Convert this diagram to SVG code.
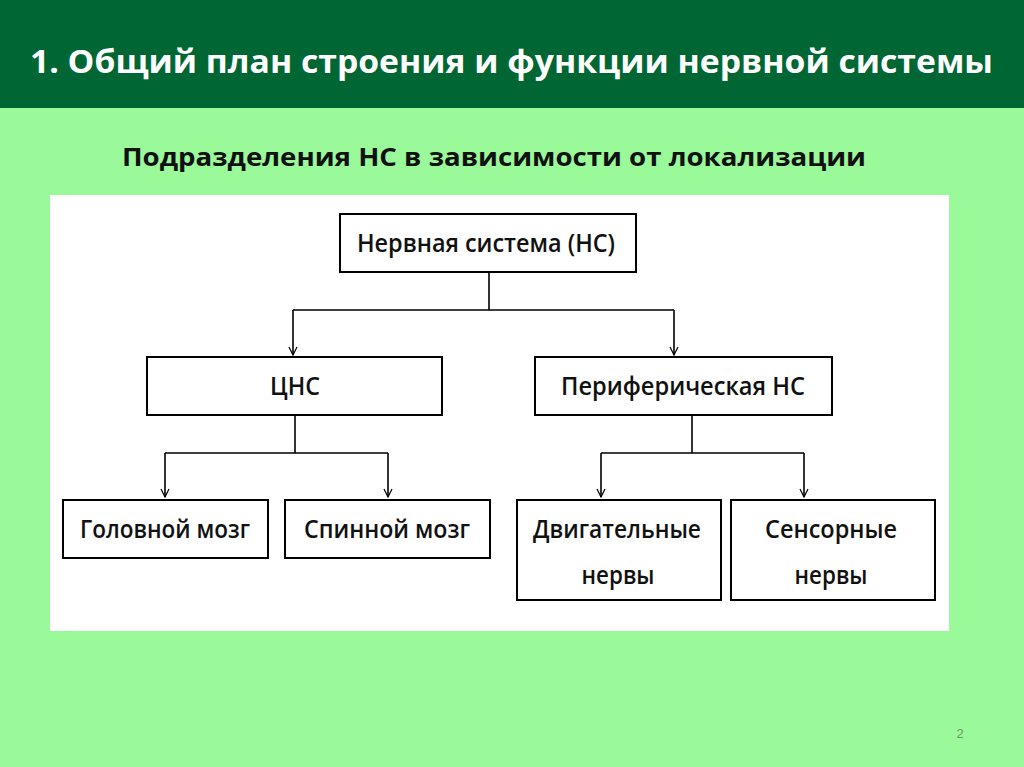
<svg xmlns="http://www.w3.org/2000/svg" width="1024" height="767" viewBox="0 0 1024 767">
<defs>
<style>
.node rect{fill:#fff;stroke:#000;stroke-width:2}
.node text{font-family:"Open Sans","Liberation Sans",Arial,sans-serif;font-weight:600;font-size:25px;fill:#111;text-anchor:middle}
.conn{fill:none;stroke:#000;stroke-width:1.6}
</style>
<marker id="arr" viewBox="0 0 10 10" refX="9" refY="5" markerWidth="10" markerHeight="10" markerUnits="userSpaceOnUse" orient="auto">
<path d="M1,1 L9,5 L1,9" fill="none" stroke="#000" stroke-width="1.2"/>
</marker>
</defs>
<rect x="0" y="0" width="1024" height="767" fill="#9afa9a"/>
<rect x="0" y="0" width="1024" height="108" fill="#006633"/>
<text x="30" y="73" font-family="'Open Sans','Liberation Sans',sans-serif" font-weight="bold" font-size="33" fill="#fff" textLength="963" lengthAdjust="spacingAndGlyphs">1. Общий план строения и функции нервной системы</text>
<text x="122" y="166" font-family="'Open Sans','Liberation Sans',sans-serif" font-weight="bold" font-size="25" fill="#111" textLength="744" lengthAdjust="spacingAndGlyphs">Подразделения НС в зависимости от локализации</text>
<rect x="50" y="195" width="899" height="436" fill="#fff"/>
<g id="connectors">
<path class="conn" d="M489,272 V310 M293,310 H674"/>
<path class="conn" d="M293,310 V355" marker-end="url(#arr)"/>
<path class="conn" d="M674,310 V355" marker-end="url(#arr)"/>
<path class="conn" d="M295,415 V453 M165,453 H388"/>
<path class="conn" d="M165,453 V497" marker-end="url(#arr)"/>
<path class="conn" d="M388,453 V497" marker-end="url(#arr)"/>
<path class="conn" d="M692,415 V453 M601,453 H804"/>
<path class="conn" d="M601,453 V497" marker-end="url(#arr)"/>
<path class="conn" d="M804,453 V497" marker-end="url(#arr)"/>
</g>
<g id="ns" class="node"><rect x="340" y="214" width="296" height="58"/><text x="486" y="252" textLength="258" lengthAdjust="spacingAndGlyphs">Нервная система (НС)</text></g>
<g id="cns" class="node"><rect x="147" y="357" width="295" height="58"/><text x="295" y="395" textLength="50" lengthAdjust="spacingAndGlyphs">ЦНС</text></g>
<g id="pns" class="node"><rect x="535" y="357" width="297" height="58"/><text x="683" y="395" textLength="244" lengthAdjust="spacingAndGlyphs">Периферическая НС</text></g>
<g id="brain" class="node"><rect x="63" y="500" width="205" height="58"/><text x="165" y="538" textLength="170" lengthAdjust="spacingAndGlyphs">Головной мозг</text></g>
<g id="spine" class="node"><rect x="285" y="500" width="205" height="58"/><text x="387" y="538" textLength="166" lengthAdjust="spacingAndGlyphs">Спинной мозг</text></g>
<g id="motor" class="node"><rect x="517" y="500" width="204" height="100"/><text x="617" y="538" textLength="168" lengthAdjust="spacingAndGlyphs">Двигательные</text><text x="618" y="584" textLength="73" lengthAdjust="spacingAndGlyphs">нервы</text></g>
<g id="sensory" class="node"><rect x="731" y="500" width="204" height="100"/><text x="831" y="538" textLength="132" lengthAdjust="spacingAndGlyphs">Сенсорные</text><text x="831" y="584" textLength="73" lengthAdjust="spacingAndGlyphs">нервы</text></g>
<text x="960" y="738" font-family="'Liberation Sans',sans-serif" font-size="13" fill="#6a9a6a" text-anchor="middle">2</text>
</svg>
